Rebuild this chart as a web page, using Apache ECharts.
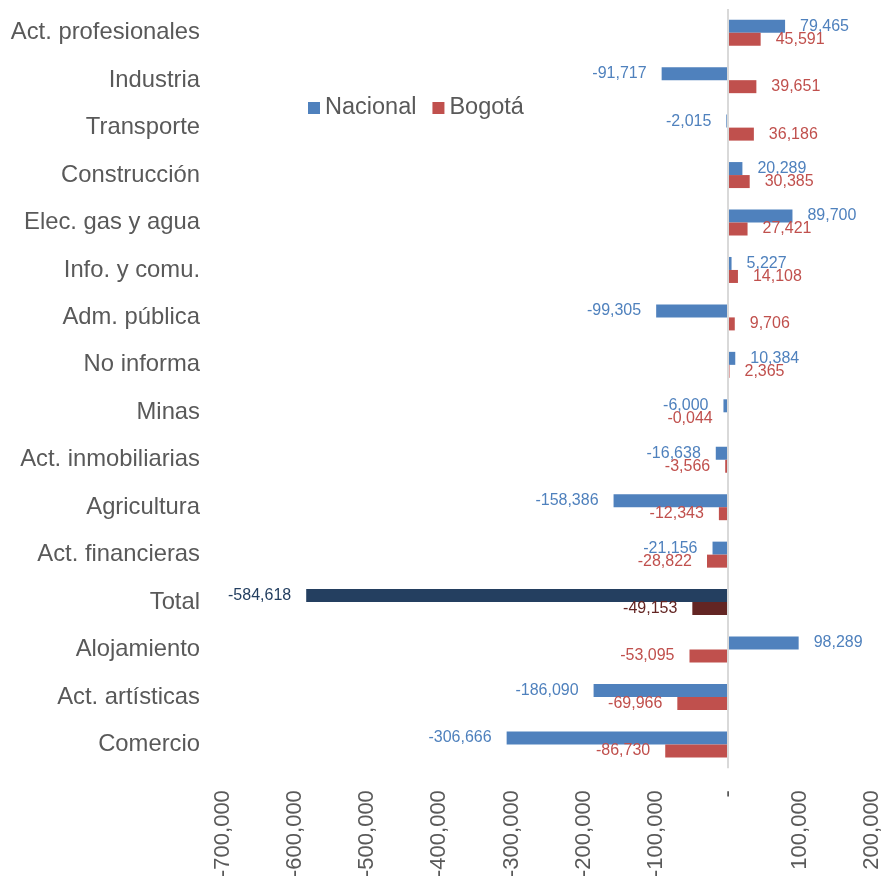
<!DOCTYPE html>
<html>
<head>
<meta charset="utf-8">
<script src="https://cdn.jsdelivr.net/npm/echarts@6/dist/echarts.min.js"></script>
<style>
  html, body { margin: 0; padding: 0; background: #fff; }
  #chart { width: 883px; height: 880px; }
</style>
</head>
<body>
<div id="chart"></div>
<script>
  const categories = [
    'Act. profesionales', 'Industria', 'Transporte', 'Construcción',
    'Elec. gas y agua', 'Info. y comu.', 'Adm. pública', 'No informa',
    'Minas', 'Act. inmobiliarias', 'Agricultura', 'Act. financieras',
    'Total', 'Alojamiento', 'Act. artísticas', 'Comercio'
  ];
  const nacional = [
    79465, -91717, -2015, 20289, 89700, 5227, -99305, 10384,
    -6000, -16638, -158386, -21156, -584618, 98289, -186090, -306666
  ];
  const bogota = [
    45591, 39651, 36186, 30385, 27421, 14108, 9706, 2365,
    -44, -3566, -12343, -28822, -49153, -53095, -69966, -86730
  ];
  const xTicks = [-700000, -600000, -500000, -400000, -300000, -200000, -100000, 0, 100000, 200000];

  const BLUE = '#4F81BD';
  const RED = '#C0504D';
  const totalIdx = categories.indexOf('Total');

  // excel style: -44 shows as -0,044
  function fmt(v) {
    const neg = v < 0;
    const a = Math.abs(v);
    let s;
    if (a < 1000) {
      s = '0,' + String(a).padStart(3, '0');
    } else {
      s = a.toLocaleString('en-US');
    }
    return (neg ? '-' : '') + s;
  }

  function build(values, color, totalColor) {
    return values.map((v, i) => {
      const c = i === totalIdx ? totalColor : color;
      return {
        value: v,
        itemStyle: { color: c },
        label: { position: v < 0 ? 'left' : 'right', color: c }
      };
    });
  }

  const chart = echarts.init(document.getElementById('chart'));
  chart.setOption({
    animation: false,
    textStyle: { fontFamily: 'Liberation Sans, Arial, sans-serif' },
    legend: {
      left: 303,
      top: 91,
      itemWidth: 12,
      itemHeight: 12,
      itemGap: 16,
      icon: 'rect',
      textStyle: { fontSize: 23.5, color: '#595959' },
      data: ['Nacional', 'Bogotá']
    },
    grid: { left: 223, right: 11, top: 9, bottom: 110 },
    xAxis: {
      type: 'value',
      min: xTicks[0],
      max: xTicks[xTicks.length - 1],
      interval: 100000,
      axisLine: { show: false },
      axisTick: { show: false },
      splitLine: { show: false },
      axisLabel: {
        rotate: 90,
        margin: 22,
        fontSize: 22,
        color: '#595959',
        formatter: (v) => (v === 0 ? '-' : v.toLocaleString('en-US'))
      }
    },
    yAxis: {
      type: 'category',
      inverse: true,
      data: categories,
      axisLine: { show: false },
      axisTick: { show: false },
      axisLabel: { fontSize: 23.8, color: '#595959', margin: 23 }
    },
    series: [
      {
        name: 'Nacional',
        type: 'bar',
        barWidth: 13,
        barGap: '0%',
        itemStyle: { color: BLUE },
        label: { show: true, fontSize: 16, distance: 15, formatter: (p) => fmt(p.value) },
        data: build(nacional, BLUE, '#243F60'),
        markLine: {
          silent: true,
          symbol: 'none',
          label: { show: false },
          lineStyle: { color: '#D9D9D9', width: 2, type: 'solid' },
          data: [{ xAxis: 0 }]
        }
      },
      {
        name: 'Bogotá',
        type: 'bar',
        barWidth: 13,
        barGap: '0%',
        itemStyle: { color: RED },
        label: { show: true, fontSize: 16, distance: 15, formatter: (p) => fmt(p.value) },
        data: build(bogota, RED, '#632523')
      }
    ]
  });
</script>
</body>
</html>
